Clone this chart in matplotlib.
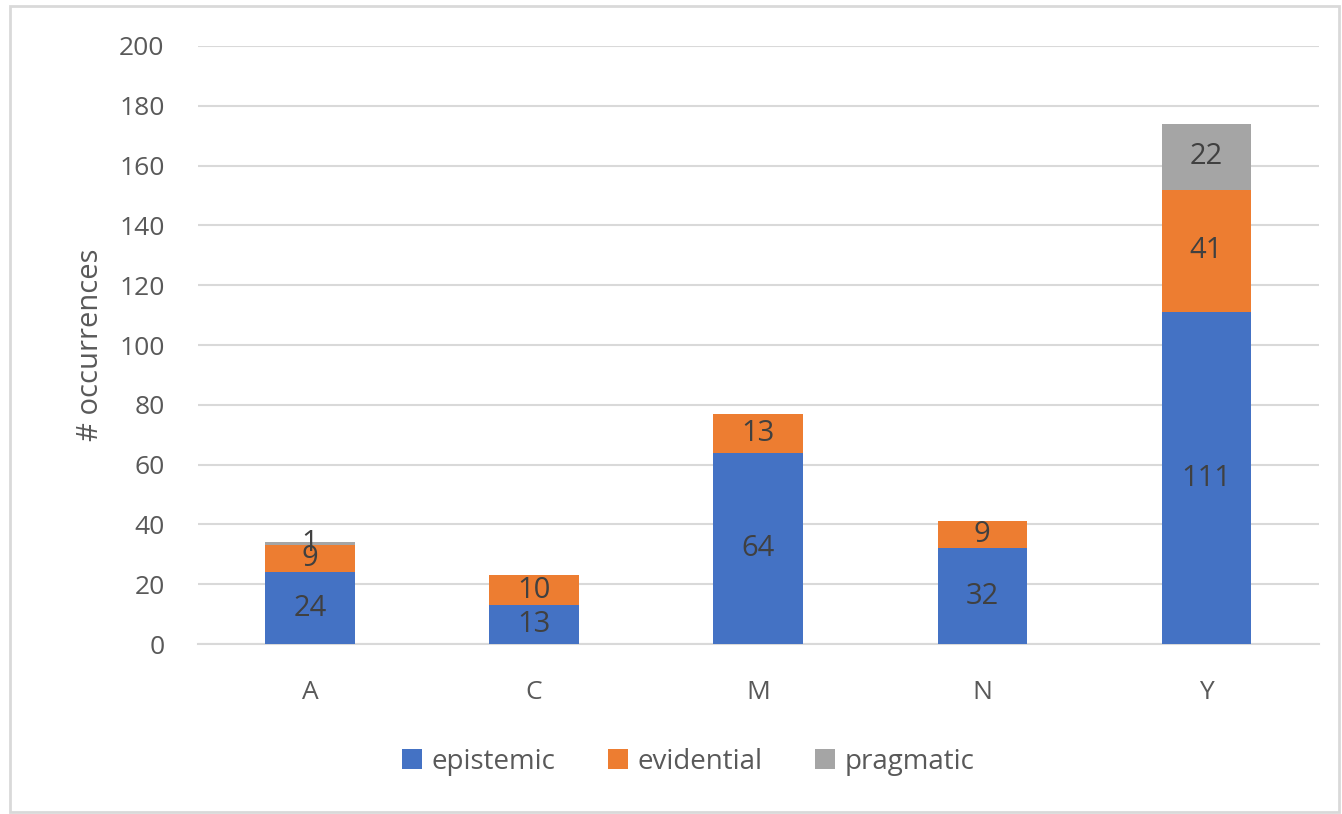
import matplotlib.pyplot as plt
from matplotlib.patches import Rectangle

plt.rcParams['font.family'] = ['Open Sans', 'DejaVu Sans']

categories = ["A", "C", "M", "N", "Y"]
epistemic = [24, 13, 64, 32, 111]
evidential = [9, 10, 13, 9, 41]
pragmatic = [1, 0, 0, 0, 22]

blue = "#4472C4"
orange = "#ED7D31"
gray = "#A5A5A5"
text_col = "#404040"
tick_col = "#595959"

fig = plt.figure(figsize=(13.42, 8.14), dpi=100)
ax = fig.add_axes([0.1475, 0.2088, 0.835, 0.7347])

x = list(range(len(categories)))
width = 0.4
base2 = [a + b for a, b in zip(epistemic, evidential)]

b1 = ax.bar(x, epistemic, width, color=blue, label="epistemic", zorder=3)
b2 = ax.bar(x, evidential, width, bottom=epistemic, color=orange, label="evidential", zorder=3)
b3 = ax.bar(x, pragmatic, width, bottom=base2, color=gray, label="pragmatic", zorder=3)

for bars, vals in [(b1, epistemic), (b2, evidential), (b3, pragmatic)]:
    labels = [str(v) if v else "" for v in vals]
    ax.bar_label(bars, labels=labels, label_type="center", fontsize=21, color=text_col, zorder=4)

ax.set_ylim(0, 200)
ax.set_xlim(-0.5, 4.5)
ax.set_yticks(range(0, 201, 20))
ax.set_xticks(x)
ax.set_xticklabels(categories)
ax.yaxis.grid(True, color="#D9D9D9", linewidth=1.5, zorder=0)
ax.set_axisbelow(True)
for s in ["top", "right", "left"]:
    ax.spines[s].set_visible(False)
ax.spines["bottom"].set_color("#D9D9D9")
ax.spines["bottom"].set_linewidth(1.5)
ax.tick_params(axis="both", length=0, labelsize=19, colors=tick_col)
ax.tick_params(axis="y", pad=24)
ax.tick_params(axis="x", pad=26)
ax.set_ylabel("# occurrences", fontsize=21, color=tick_col, labelpad=10)

fig.legend(handles=[b1, b2, b3], loc="center", bbox_to_anchor=(0.513, 0.064), ncol=3,
           frameon=False, fontsize=20, handlelength=0.7, handleheight=0.7,
           handletextpad=0.35, columnspacing=1.9, labelcolor=tick_col)

fig.patches.append(Rectangle((0.0075, 0.003), 0.99, 0.99, transform=fig.transFigure,
                             fill=False, edgecolor="#D9D9D9", linewidth=2))

fig.savefig("out.png", dpi=100)
